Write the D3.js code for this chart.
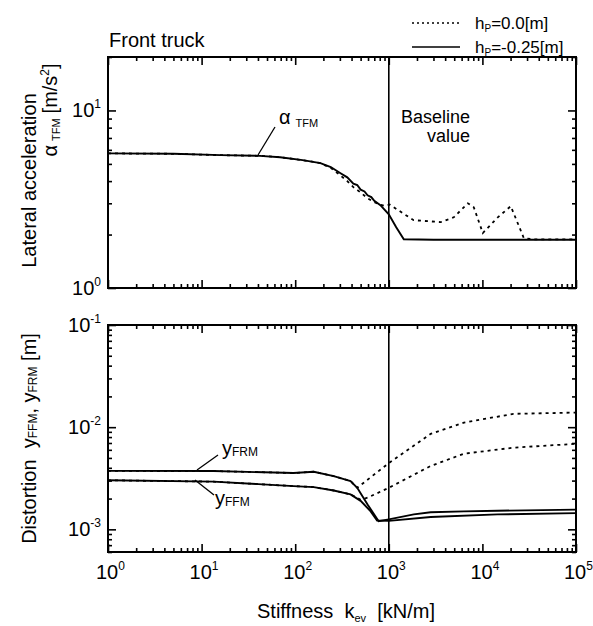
<!DOCTYPE html>
<html>
<head>
<meta charset="utf-8">
<script src="https://cdn.jsdelivr.net/npm/d3@7"></script>
<style>
  body { margin: 0; background: #fff; }
  svg { font-family: "Liberation Sans", Arial, Helvetica, sans-serif; }
  text { white-space: pre; }
</style>
</head>
<body>
<div id="chart"></div>
<script>
// ---- data ----
// top panel: lateral acceleration a_TFM [m/s^2]
let accSolidK = [1, 5, 16, 42, 69, 120, 186, 240, 305, 360, 418, 460, 500, 550, 593, 650, 700, 813, 1000, 1200, 1446, 3000, 10000, 100000];
let accSolidV = [5.73, 5.7, 5.6, 5.55, 5.45, 5.25, 5.05, 4.8, 4.43, 4.2, 3.87, 3.8, 3.58, 3.5, 3.33, 3.25, 3.1, 2.93, 2.6, 2.2, 1.88, 1.87, 1.87, 1.87];
let accDotK = [1, 5, 16, 42, 69, 120, 186, 240, 305, 360, 418, 500, 593, 700, 800, 900, 1020, 1842, 3590, 4945, 6980, 8090, 10100, 14600, 20100, 27700, 35000, 100000];
let accDotV = [5.73, 5.7, 5.6, 5.55, 5.45, 5.25, 5.05, 4.75, 4.3, 4.0, 3.7, 3.45, 3.2, 3.05, 2.95, 2.9, 2.95, 2.41, 2.35, 2.5, 3.0, 2.85, 2.04, 2.5, 2.89, 1.91, 1.88, 1.88];

// bottom panel: distortion y_FRM / y_FFM [m]
let frmSolidK = [1, 13.4, 96, 158, 258, 390, 460, 593, 780, 1000, 1850, 2800, 6350, 14500, 100000];
let frmSolidV = [3.73e-3, 3.72e-3, 3.56e-3, 3.66e-3, 3.32e-3, 2.97e-3, 2.55e-3, 1.75e-3, 1.2e-3, 1.25e-3, 1.4e-3, 1.47e-3, 1.5e-3, 1.52e-3, 1.56e-3];
let ffmSolidK = [1, 13.4, 96, 158, 258, 390, 500, 640, 750, 1000, 2800, 14500, 100000];
let ffmSolidV = [3.02e-3, 2.93e-3, 2.65e-3, 2.59e-3, 2.4e-3, 2.2e-3, 1.9e-3, 1.5e-3, 1.22e-3, 1.21e-3, 1.32e-3, 1.4e-3, 1.44e-3];
let frmDotK = [1, 13.4, 96, 158, 258, 390, 460, 1000, 2800, 6350, 21500, 100000];
let frmDotV = [3.73e-3, 3.72e-3, 3.56e-3, 3.66e-3, 3.32e-3, 2.97e-3, 2.55e-3, 4.45e-3, 8.6e-3, 1.11e-2, 1.35e-2, 1.39e-2];
let ffmDotK = [1, 13.4, 96, 158, 258, 390, 500, 593, 1000, 2800, 6350, 21500, 100000];
let ffmDotV = [3.02e-3, 2.93e-3, 2.65e-3, 2.59e-3, 2.4e-3, 2.2e-3, 1.95e-3, 2.04e-3, 2.55e-3, 4.17e-3, 5.5e-3, 6.3e-3, 6.87e-3];

let xTickExp = [0, 1, 2, 3, 4, 5];
let topTickExp = [0, 1];
let botTickExp = [-3, -2, -1];
let baselineK = 1000;

// ---- layout ----
let W = 593, H = 626;
let left = 108, right = 576;
let topY0 = 57, topY1 = 288;
let botY0 = 325, botY1 = 552;

let svg = d3.select('#chart').append('svg')
  .attr('width', W).attr('height', H);

let x = d3.scaleLog().domain([1, 1e5]).range([left, right]);
let yTop = d3.scaleLog().domain([1, 20]).range([topY1, topY0]);
let yBot = d3.scaleLog().domain([6e-4, 0.1]).range([botY1, botY0]);

function logTicks(dom) {
  let out = [];
  let lo = Math.floor(Math.log10(dom[0])), hi = Math.ceil(Math.log10(dom[1]));
  for (let e = lo; e <= hi; e++) {
    for (let m = 1; m <= 9; m++) {
      let v = m * Math.pow(10, e);
      if (v >= dom[0] * 0.999 && v <= dom[1] * 1.001) out.push(v);
    }
  }
  return out;
}
function isMajor(v) {
  let l = Math.log10(v);
  return Math.abs(l - Math.round(l)) < 1e-6;
}

function drawPanel(y, y0, y1) {
  let g = svg.append('g');
  let xt = logTicks(x.domain());
  let yt = logTicks(y.domain());
  // inward ticks on all four sides
  let gb = g.append('g').attr('transform', `translate(0,${y1})`)
    .call(d3.axisTop(x).tickValues(xt).tickFormat('').tickSize(0));
  gb.selectAll('.tick line').attr('y2', d => isMajor(d) ? -8 : -4);
  let gt = g.append('g').attr('transform', `translate(0,${y0})`)
    .call(d3.axisBottom(x).tickValues(xt).tickFormat('').tickSize(0));
  gt.selectAll('.tick line').attr('y2', d => isMajor(d) ? 8 : 4);
  let gl = g.append('g').attr('transform', `translate(${left},0)`)
    .call(d3.axisRight(y).tickValues(yt).tickFormat('').tickSize(0));
  gl.selectAll('.tick line').attr('x2', d => isMajor(d) ? 8 : 4);
  let gr = g.append('g').attr('transform', `translate(${right},0)`)
    .call(d3.axisLeft(y).tickValues(yt).tickFormat('').tickSize(0));
  gr.selectAll('.tick line').attr('x2', d => isMajor(d) ? -8 : -4);
  g.selectAll('.domain').remove();
  g.selectAll('.tick line').attr('stroke', '#000').attr('stroke-width', 1.6);

  g.append('rect')
    .attr('x', left).attr('y', y0)
    .attr('width', right - left).attr('height', y1 - y0)
    .attr('fill', 'none').attr('stroke', '#000').attr('stroke-width', 2);

  // baseline value line
  g.append('line')
    .attr('x1', x(baselineK)).attr('x2', x(baselineK))
    .attr('y1', y0).attr('y2', y1)
    .attr('stroke', '#000').attr('stroke-width', 1.6);
  return g;
}

function powLabel(sel, exp) {
  sel.append('tspan').text('10');
  sel.append('tspan').attr('dy', -9).attr('font-size', 12).text(exp);
}

let gTop = drawPanel(yTop, topY0, topY1);
let gBot = drawPanel(yBot, botY0, botY1);

// y tick labels
topTickExp.forEach(e => {
  let t = svg.append('text').attr('x', 101).attr('y', yTop(Math.pow(10, e)) + 7)
    .attr('text-anchor', 'end').attr('font-size', 20);
  powLabel(t, e);
});
botTickExp.forEach(e => {
  let t = svg.append('text').attr('x', 101).attr('y', yBot(Math.pow(10, e)) + 7)
    .attr('text-anchor', 'end').attr('font-size', 20);
  powLabel(t, e);
});
// x tick labels: the "10" sits centred on its tick
xTickExp.forEach(e => {
  let t = svg.append('text').attr('x', x(Math.pow(10, e)) - 12).attr('y', botY1 + 27)
    .attr('text-anchor', 'start').attr('font-size', 20);
  powLabel(t, e);
});

// curves
function drawLine(g, y, ks, vs, dotted) {
  let pts = ks.map((k, i) => [k, vs[i]]);
  let line = d3.line().x(d => x(d[0])).y(d => y(d[1]));
  g.append('path').datum(pts)
    .attr('d', line)
    .attr('fill', 'none')
    .attr('stroke', '#000')
    .attr('stroke-width', dotted ? 1.8 : 1.9)
    .attr('stroke-dasharray', dotted ? '3,4' : null);
}
drawLine(gTop, yTop, accDotK, accDotV, true);
drawLine(gTop, yTop, accSolidK, accSolidV, false);
drawLine(gBot, yBot, frmDotK, frmDotV, true);
drawLine(gBot, yBot, ffmDotK, ffmDotV, true);
drawLine(gBot, yBot, frmSolidK, frmSolidV, false);
drawLine(gBot, yBot, ffmSolidK, ffmSolidV, false);

// annotations
function leader(x1, y1, x2, y2) {
  svg.append('line').attr('x1', x1).attr('y1', y1).attr('x2', x2).attr('y2', y2)
    .attr('stroke', '#000').attr('stroke-width', 1.3);
}
let aLab = svg.append('text').attr('x', 279).attr('y', 124).attr('font-size', 20);
aLab.append('tspan').text('α');
aLab.append('tspan').attr('dx', 5).attr('dy', 3).attr('font-size', 11).text('TFM');
leader(275, 127, 258, 155);

let frmLab = svg.append('text').attr('x', 222).attr('y', 455).attr('font-size', 20);
frmLab.append('tspan').text('y');
frmLab.append('tspan').attr('dy', 1).attr('font-size', 12).text('FRM');
leader(218, 455, 197, 470);

let ffmLab = svg.append('text').attr('x', 215).attr('y', 505).attr('font-size', 20);
ffmLab.append('tspan').text('y');
ffmLab.append('tspan').attr('dy', 1).attr('font-size', 12).text('FFM');
leader(214, 495, 195, 480);

svg.append('text').attr('x', 470).attr('y', 123).attr('text-anchor', 'end')
  .attr('font-size', 18).text('Baseline');
svg.append('text').attr('x', 470).attr('y', 142).attr('text-anchor', 'end')
  .attr('font-size', 18).text('value');

// title and legend
svg.append('text').attr('x', 109).attr('y', 47).attr('font-size', 20).text('Front truck');

let legend = [{ dotted: true, txt: '=0.0[m]', y: 23 }, { dotted: false, txt: '=-0.25[m]', y: 47 }];
legend.forEach(d => {
  svg.append('line').attr('x1', 412).attr('x2', 460).attr('y1', d.y).attr('y2', d.y)
    .attr('stroke', '#000').attr('stroke-width', d.dotted ? 1.4 : 1.6)
    .attr('stroke-dasharray', d.dotted ? '2,3' : null);
  let t = svg.append('text').attr('x', 475).attr('y', d.y + 6).attr('font-size', 17);
  t.append('tspan').text('h');
  t.append('tspan').attr('dy', 3).attr('font-size', 10).text('P');
  t.append('tspan').attr('dy', -3).text(d.txt);
});

// axis titles
svg.append('text').attr('transform', `translate(36,${(topY0 + topY1) / 2 + 8}) rotate(-90)`)
  .attr('text-anchor', 'middle').attr('font-size', 20).text('Lateral acceleration');
let yt2 = svg.append('text').attr('transform', `translate(57,110) rotate(-90)`)
  .attr('text-anchor', 'middle').attr('font-size', 20);
yt2.append('tspan').text('α');
yt2.append('tspan').attr('dx', 4).attr('dy', 3).attr('font-size', 11).text('TFM');
yt2.append('tspan').attr('dx', 5).attr('dy', -3).text('[m/s');
yt2.append('tspan').attr('dy', -8).attr('font-size', 12).text('2');
yt2.append('tspan').attr('dy', 8).text(']');

let yt3 = svg.append('text').attr('transform', `translate(36,${(botY0 + botY1) / 2}) rotate(-90)`)
  .attr('text-anchor', 'middle').attr('font-size', 20);
yt3.append('tspan').text('Distortion  y');
yt3.append('tspan').attr('dy', 1).attr('font-size', 12).text('FFM');
yt3.append('tspan').attr('dy', -1).text(', y');
yt3.append('tspan').attr('dy', 1).attr('font-size', 12).text('FRM');
yt3.append('tspan').attr('dy', -1).text(' [m]');

let xt = svg.append('text').attr('x', 346).attr('y', 618)
  .attr('text-anchor', 'middle').attr('font-size', 20);
xt.append('tspan').text('Stiffness  k');
xt.append('tspan').attr('dy', 4).attr('font-size', 11).text('ev');
xt.append('tspan').attr('dy', -4).text('  [kN/m]');
</script>
</body>
</html>
